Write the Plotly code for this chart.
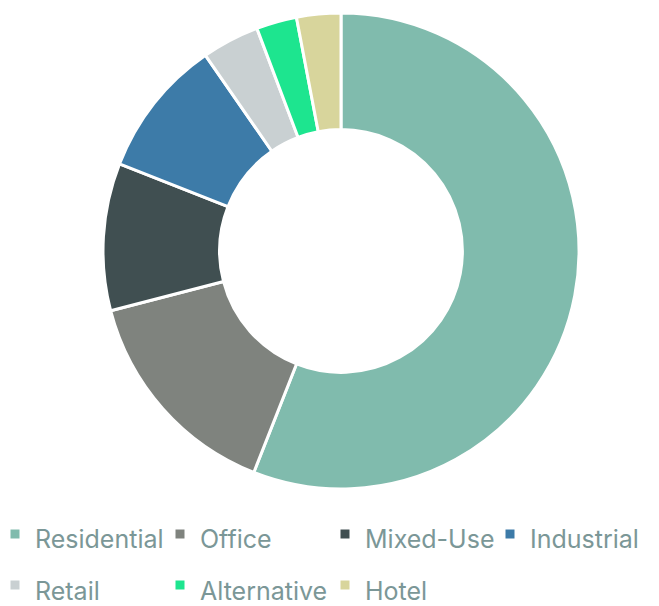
import plotly.graph_objects as go

labels = ["Residential", "Office", "Mixed-Use", "Industrial", "Retail", "Alternative", "Hotel"]
values = [56, 15, 10, 9.4, 3.9, 2.75, 3]
colors = ["#80bbad", "#7f837e", "#404f51", "#3d7ba8", "#c9d0d2", "#1de58f", "#d8d59c"]

display_labels = [f"<span style='font-size:25px'>{l}</span>" for l in labels]

cx, cy, r = 333, 243, 238
fig = go.Figure(go.Pie(
    labels=display_labels, values=values, hole=0.51, sort=False, direction="clockwise",
    rotation=0, textinfo="none", hoverinfo="label+percent",
    marker=dict(colors=colors, line=dict(color="white", width=3)),
    domain=dict(x=[(cx-r)/659, (cx+r)/659], y=[1-(cy+r)/606, 1-(cy-r)/606]),
))
fig.update_layout(
    width=659, height=606, margin=dict(l=0, r=0, t=0, b=0, autoexpand=False),
    paper_bgcolor="white", plot_bgcolor="white",
    font=dict(family="Inter, Roboto, sans-serif", color="#7b9797"),
    legend=dict(orientation="h", x=0, y=-0.004, xanchor="left", yanchor="bottom",
                entrywidth=133, entrywidthmode="pixels", indentation=-13,
                bgcolor="rgba(0,0,0,0)",
                font=dict(size=37, color="#7b9797"),
                traceorder="normal"),
)
fig.write_html("out.html")
